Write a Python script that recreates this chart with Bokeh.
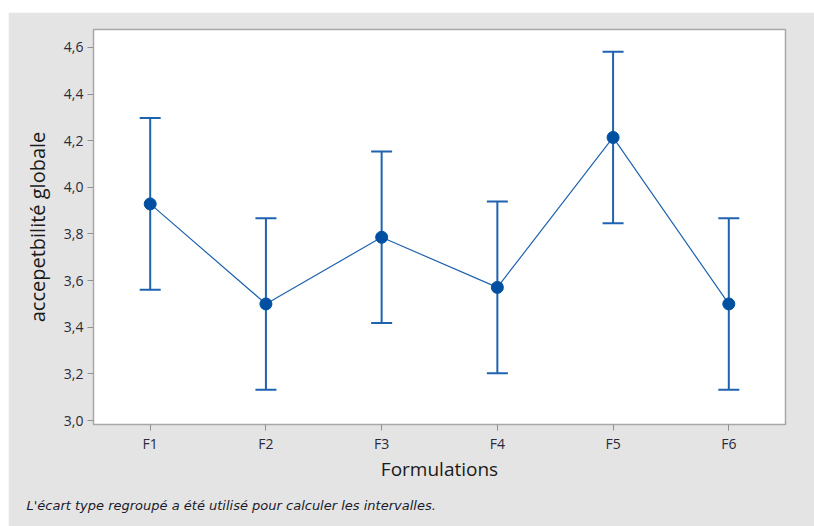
from bokeh.plotting import figure
from bokeh.models import ColumnDataSource, Whisker, TeeHead, FixedTicker, Range1d, Title, Spacer
from bokeh.layouts import row, column
from bokeh.embed import file_html
from bokeh.resources import INLINE

categories = ["F1", "F2", "F3", "F4", "F5", "F6"]
means = [3.929, 3.500, 3.786, 3.571, 4.214, 3.500]
lower = [3.561, 3.132, 3.418, 3.203, 3.846, 3.132]
upper = [4.297, 3.868, 4.154, 3.939, 4.582, 3.868]
y_ticks = [3.0, 3.2, 3.4, 3.6, 3.8, 4.0, 4.2, 4.4, 4.6]

xs = list(range(1, len(categories) + 1))
src = ColumnDataSource(dict(x=xs, m=means, lo=lower, hi=upper))

BG = "#e4e4e4"
LINE = "#1f63b0"
MARK = "#0050a2"
FONT = "Open Sans"

p = figure(width=806, height=514, output_backend="svg", toolbar_location=None,
           x_range=Range1d(0.51, 6.49), y_range=Range1d(2.983, 4.677),
           min_border_left=85, min_border_right=29, min_border_top=17, min_border_bottom=102)
p.border_fill_color = BG
p.background_fill_color = "white"
p.outline_line_color = "#a8a8a8"
p.outline_line_width = 1.5
p.grid.visible = False

p.line("x", "m", source=src, line_color=LINE, line_width=1.2)
w = Whisker(source=src, base="x", lower="lo", upper="hi", line_color=LINE, line_width=2,
            lower_head=TeeHead(size=21, line_color=LINE, line_width=2),
            upper_head=TeeHead(size=21, line_color=LINE, line_width=2))
p.add_layout(w)
p.scatter("x", "m", source=src, size=12, marker="circle", fill_color=MARK, line_color=MARK)

p.xaxis.ticker = FixedTicker(ticks=xs)
p.xaxis.major_label_overrides = {x: c for x, c in zip(xs, categories)}
p.yaxis.ticker = FixedTicker(ticks=y_ticks)
p.yaxis.major_label_overrides = {t: f"{t:.1f}".replace(".", ",") for t in y_ticks}

for ax in (p.xaxis[0], p.yaxis[0]):
    ax.axis_line_color = None
    ax.major_tick_line_color = "#909090"
    ax.major_tick_out = 6
    ax.major_tick_in = 0
    ax.minor_tick_line_color = None
    ax.major_label_text_font = FONT
    ax.major_label_text_font_size = "14px"
    ax.major_label_text_color = "#2a2a3a"
    ax.axis_label_text_font = FONT
    ax.axis_label_text_font_style = "normal"
    ax.axis_label_text_color = "#1a1a1a"

p.xaxis.axis_label = "Formulations"
p.xaxis.axis_label_text_font_size = "19px"
p.xaxis.major_label_standoff = 3
p.xaxis.axis_label_standoff = 0
p.yaxis.axis_label = "accepetbilité globale"
p.yaxis.axis_label_text_font_size = "20px"
p.yaxis.major_label_standoff = 4
p.yaxis.axis_label_standoff = 10

note = Title(text="L'écart type regroupé a été utilisé pour calculer les intervalles.",
             align="left", offset=-67, standoff=23,
             text_font="DejaVu Sans", text_font_size="13px", text_font_style="italic",
             text_color="#1a1a2a")
p.add_layout(note, "below")

layout = row(Spacer(width=8, height=526), column(Spacer(width=806, height=12), p))
open("out.html", "w").write(file_html(layout, INLINE))
